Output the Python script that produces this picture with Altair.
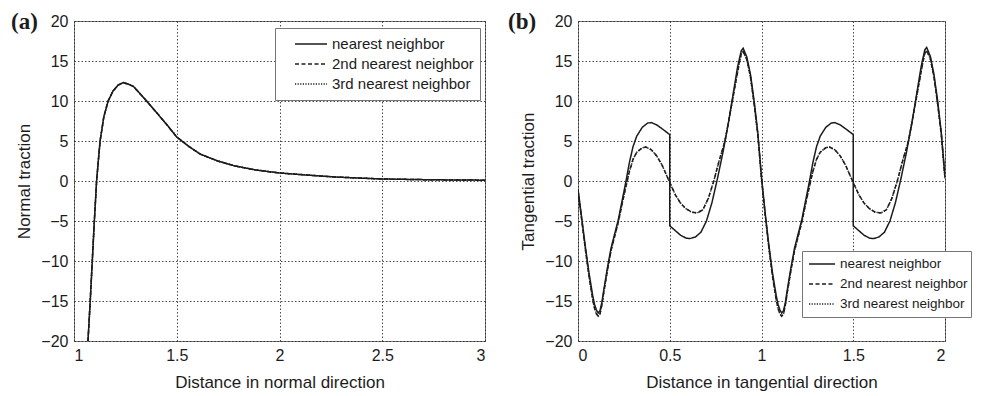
import altair as alt
import pandas as pd

series = ["nearest neighbor", "2nd nearest neighbor", "3rd nearest neighbor"]

# Panel (a): normal traction (all three curves coincide)
norm_x = [1.068, 1.079, 1.089, 1.099, 1.11, 1.12, 1.127, 1.145, 1.166, 1.19, 1.215,
          1.24, 1.265, 1.29, 1.35, 1.40, 1.45, 1.50, 1.56, 1.615, 1.70, 1.78, 1.88,
          2.00, 2.13, 2.27, 2.50, 2.75, 3.00]
norm_y = [-20, -15, -10, -5, 0, 3.0, 5.0, 8.0, 10.0, 11.25, 12.0,
          12.3, 12.1, 11.8, 10.1, 8.6, 7.1, 5.5, 4.3, 3.35, 2.5, 1.9, 1.4,
          1.0, 0.75, 0.5, 0.25, 0.15, 0.1]

# Panel (b): tangential traction, nearest neighbor (solid, with jumps)
tan_x_1 = [0.00, 0.02, 0.04, 0.06, 0.08, 0.09, 0.10, 0.11, 0.12, 0.13, 0.14, 0.16, 0.18, 0.20,
           0.22, 0.24, 0.26, 0.28, 0.30, 0.32, 0.35, 0.38, 0.40, 0.43, 0.46, 0.50,
           0.50, 0.53, 0.56, 0.59, 0.61, 0.64, 0.67, 0.70, 0.73, 0.76, 0.79, 0.82,
           0.85, 0.87, 0.89, 0.90, 0.92, 0.94, 0.96, 0.98, 1.00,
           1.02, 1.04, 1.06, 1.08, 1.09, 1.10, 1.11, 1.12, 1.13, 1.14, 1.16, 1.18, 1.20,
           1.22, 1.24, 1.26, 1.28, 1.30, 1.32, 1.35, 1.38, 1.40, 1.43, 1.46, 1.50,
           1.50, 1.53, 1.56, 1.59, 1.61, 1.64, 1.67, 1.70, 1.73, 1.76, 1.79, 1.82,
           1.85, 1.87, 1.89, 1.90, 1.92, 1.94, 1.96, 1.98, 2.00]
tan_y_1 = [-1.0, -4.6, -8.2, -11.5, -14.3, -15.4, -16.1, -16.5, -16.2, -15.2, -13.7, -10.9, -8.4, -6.6,
           -4.8, -2.5, -0.2, 2.3, 4.3, 5.6, 6.7, 7.25, 7.3, 7.0, 6.5, 5.8,
           -5.6, -6.2, -6.8, -7.15, -7.2, -7.0, -6.4, -5.0, -2.7, 0.3, 3.6, 7.3,
           11.5, 14.3, 16.3, 16.6, 15.5, 13.3, 10.0, 6.0, 0.5,
           -4.0, -8.0, -11.5, -14.3, -15.4, -16.1, -16.5, -16.2, -15.2, -13.7, -10.9, -8.4, -6.6,
           -4.8, -2.5, -0.2, 2.3, 4.3, 5.6, 6.7, 7.25, 7.3, 7.0, 6.5, 5.8,
           -5.6, -6.2, -6.8, -7.15, -7.2, -7.0, -6.4, -5.0, -2.7, 0.3, 3.6, 7.3,
           11.5, 14.3, 16.4, 16.7, 15.6, 13.3, 10.0, 6.0, 0.5]

# 2nd and 3rd nearest neighbor (dashed / dotted, practically identical)
tan_x_2 = [0.00, 0.02, 0.04, 0.06, 0.08, 0.09, 0.10, 0.11, 0.12, 0.13, 0.14, 0.16, 0.18, 0.20,
           0.22, 0.24, 0.26, 0.28, 0.30, 0.32, 0.35, 0.37, 0.40, 0.43, 0.46, 0.50,
           0.53, 0.56, 0.59, 0.62, 0.65, 0.68, 0.71, 0.74, 0.77, 0.80, 0.83, 0.86,
           0.88, 0.89, 0.90, 0.92, 0.94, 0.96, 0.98, 1.00,
           1.02, 1.04, 1.06, 1.08, 1.09, 1.10, 1.11, 1.12, 1.13, 1.14, 1.16, 1.18, 1.20,
           1.22, 1.24, 1.26, 1.28, 1.30, 1.32, 1.35, 1.37, 1.40, 1.43, 1.46, 1.50,
           1.53, 1.56, 1.59, 1.62, 1.65, 1.68, 1.71, 1.74, 1.77, 1.80, 1.83, 1.86,
           1.88, 1.89, 1.90, 1.92, 1.94, 1.96, 1.98, 2.00]
tan_y_2 = [-1.2, -4.8, -8.5, -11.9, -14.8, -15.9, -16.6, -16.9, -16.6, -15.5, -14.0, -11.2, -8.7, -6.9,
           -5.1, -2.9, -0.8, 1.2, 2.7, 3.6, 4.15, 4.25, 3.9, 3.1, 1.9, -0.2,
           -1.7, -2.8, -3.5, -3.9, -4.0, -3.6, -2.2, 0.0, 2.6, 4.9, 8.6, 12.4,
           14.9, 15.9, 16.2, 15.2, 13.0, 9.6, 5.8, 0.3,
           -4.2, -8.3, -11.9, -14.8, -15.9, -16.6, -16.9, -16.6, -15.5, -14.0, -11.2, -8.7, -6.9,
           -5.1, -2.9, -0.8, 1.2, 2.7, 3.6, 4.15, 4.25, 3.9, 3.1, 1.9, -0.2,
           -1.7, -2.8, -3.5, -3.9, -4.0, -3.6, -2.2, 0.0, 2.6, 4.9, 8.6, 12.4,
           14.9, 16.0, 16.3, 15.3, 13.0, 9.6, 5.8, 0.3]

INK = "#1c1c1c"
FONT = "Liberation Sans"

rows_a = []
for s in series:
    for i, (x, y) in enumerate(zip(norm_x, norm_y)):
        rows_a.append({"x": x, "y": y, "series": s, "i": i})
df_a = pd.DataFrame(rows_a)

rows_b = []
for i, (x, y) in enumerate(zip(tan_x_1, tan_y_1)):
    rows_b.append({"x": x, "y": y, "series": series[0], "i": i})
for s in series[1:]:
    for i, (x, y) in enumerate(zip(tan_x_2, tan_y_2)):
        rows_b.append({"x": x, "y": y, "series": s, "i": i})
df_b = pd.DataFrame(rows_b)

dash_scale = alt.Scale(domain=series, range=[[1, 0], [4, 2.5], [1.2, 1.4]])


def make_legend(lx, ly, pad, soff, ssize, loff, fs):
    return alt.Legend(
        title=None, orient="none", legendX=lx, legendY=ly,
        symbolType="stroke", symbolSize=ssize, symbolStrokeWidth=1.4,
        symbolStrokeColor=INK, clipHeight=20, rowPadding=0,
        labelFont=FONT, labelFontSize=fs, labelColor=INK, labelOffset=loff,
        symbolOffset=soff, padding=pad, strokeColor="#777", fillColor="white",
        cornerRadius=0,
    )


def panel(df, xdom, xvals, xtitle, ytitle, legend, tag, tagx, w):
    base = alt.Chart(df).mark_line(strokeWidth=1.5, color=INK, clip=True).encode(
        x=alt.X("x:Q", scale=alt.Scale(domain=xdom, nice=False),
                axis=alt.Axis(values=xvals, format="~g", title=xtitle)),
        y=alt.Y("y:Q", scale=alt.Scale(domain=[-20, 20], nice=False),
                axis=alt.Axis(values=list(range(-20, 21, 5)), format="~g", title=ytitle)),
        strokeDash=alt.StrokeDash("series:N", scale=dash_scale, legend=legend),
        order="i:Q",
        detail="series:N",
    )
    lab = alt.Chart(pd.DataFrame({"t": [tag]})).mark_text(
        font="Liberation Serif", fontSize=23, fontWeight="bold", color=INK,
        align="left", baseline="alphabetic",
    ).encode(text="t:N", x=alt.value(tagx), y=alt.value(8))
    return alt.layer(base, lab).properties(width=w, height=320)


left = panel(df_a, [1, 3], [1, 1.5, 2, 2.5, 3], "Distance in normal direction",
             "Normal traction", make_legend(201, 7, 6, 13, 1024, 4, 15), "(a)", -63, 411)
right = panel(df_b, [0, 2], [0, 0.5, 1, 1.5, 2], "Distance in tangential direction",
              "Tangential traction", make_legend(224, 230, 3, 3, 676, 4, 13.5), "(b)", -70, 367)

chart = alt.hconcat(left, right, spacing=21).resolve_scale(
    strokeDash="independent").resolve_legend(strokeDash="independent").properties(
    padding={"left": 2, "top": 2, "right": 0, "bottom": 0}
).configure_view(stroke="#777", strokeWidth=1).configure_axis(
    grid=True, gridColor="#222", gridDash=[1.5, 2], gridWidth=0.9, gridOpacity=0.9,
    domain=False, ticks=False,
    labelFont=FONT, labelFontSize=16, labelColor=INK, labelPadding=6,
    titleFont=FONT, titleFontSize=17, titleFontWeight="normal", titleColor=INK,
).configure_axisX(titlePadding=11, labelPadding=6).configure_axisY(titlePadding=7)

chart.save("out.html", embed_options={"renderer": "svg", "actions": False})
